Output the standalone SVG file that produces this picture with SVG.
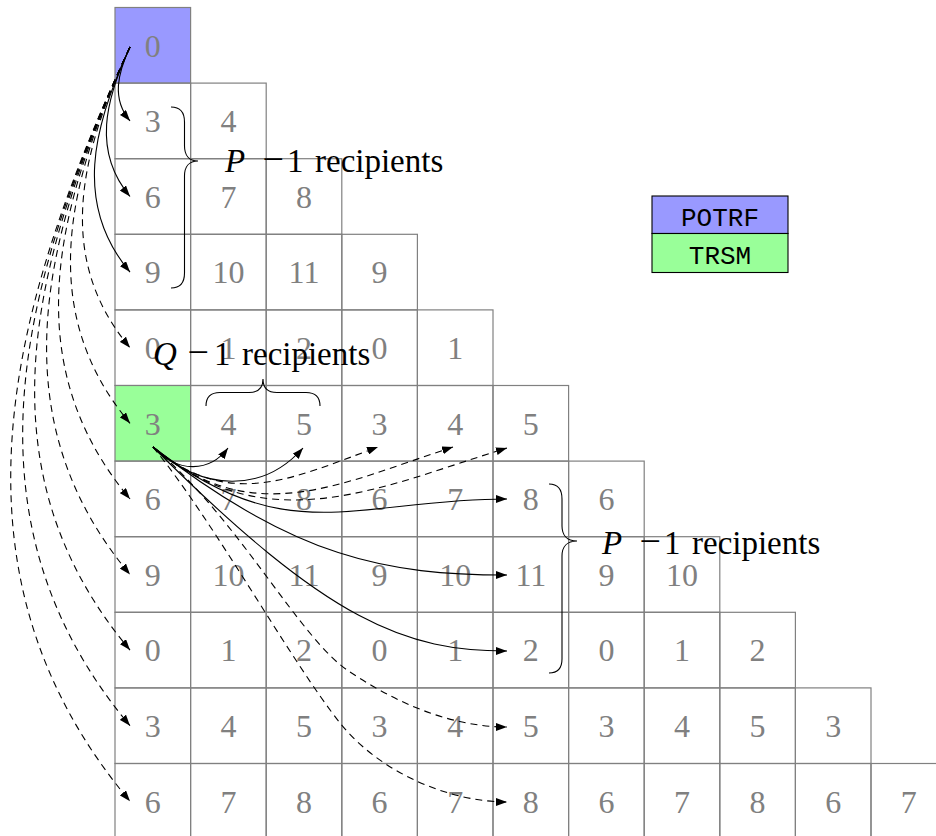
<svg xmlns="http://www.w3.org/2000/svg" width="936" height="836" viewBox="0 0 936 836">
<defs>
<style>
.cell{fill:none;stroke:#808080;stroke-width:1.2}
.num{font-family:"Liberation Serif",serif;font-size:32px;fill:#808080;text-anchor:middle}
.ar{fill:none;stroke:#000;stroke-width:1.1;marker-end:url(#ah)}
.dash{stroke-dasharray:7 5}
.brace{fill:none;stroke:#000;stroke-width:1.1}
.lbl{font-family:"Liberation Serif",serif;font-size:33px;fill:#000}
.it{font-style:italic}
.mi{font-size:38px}
.leg{stroke:#000;stroke-width:1.1}
.legt{font-family:"Liberation Mono",monospace;font-size:26px;fill:#000;text-anchor:middle}
.blue{fill:#9999ff}
.green{fill:#99ff99}
</style>
<marker id="ah" markerWidth="12" markerHeight="8" refX="11" refY="4" orient="auto" markerUnits="userSpaceOnUse">
<path d="M0,0 L11,4 L0,8 z" fill="#000"/>
</marker>
</defs>
<rect width="936" height="836" fill="#fff"/>
<g id="grid">
<g id="n-0-0" transform="translate(115,7.5)"><rect class="cell blue" width="75.6" height="75.6"/><text class="num" x="37.8" y="49">0</text></g>
<g id="n-1-0" transform="translate(115,83.1)"><rect class="cell" width="75.6" height="75.6"/><text class="num" x="37.8" y="49">3</text></g>
<g id="n-1-1" transform="translate(190.6,83.1)"><rect class="cell" width="75.6" height="75.6"/><text class="num" x="37.8" y="49">4</text></g>
<g id="n-2-0" transform="translate(115,158.7)"><rect class="cell" width="75.6" height="75.6"/><text class="num" x="37.8" y="49">6</text></g>
<g id="n-2-1" transform="translate(190.6,158.7)"><rect class="cell" width="75.6" height="75.6"/><text class="num" x="37.8" y="49">7</text></g>
<g id="n-2-2" transform="translate(266.2,158.7)"><rect class="cell" width="75.6" height="75.6"/><text class="num" x="37.8" y="49">8</text></g>
<g id="n-3-0" transform="translate(115,234.3)"><rect class="cell" width="75.6" height="75.6"/><text class="num" x="37.8" y="49">9</text></g>
<g id="n-3-1" transform="translate(190.6,234.3)"><rect class="cell" width="75.6" height="75.6"/><text class="num" x="37.8" y="49">10</text></g>
<g id="n-3-2" transform="translate(266.2,234.3)"><rect class="cell" width="75.6" height="75.6"/><text class="num" x="37.8" y="49">11</text></g>
<g id="n-3-3" transform="translate(341.8,234.3)"><rect class="cell" width="75.6" height="75.6"/><text class="num" x="37.8" y="49">9</text></g>
<g id="n-4-0" transform="translate(115,309.9)"><rect class="cell" width="75.6" height="75.6"/><text class="num" x="37.8" y="49">0</text></g>
<g id="n-4-1" transform="translate(190.6,309.9)"><rect class="cell" width="75.6" height="75.6"/><text class="num" x="37.8" y="49">1</text></g>
<g id="n-4-2" transform="translate(266.2,309.9)"><rect class="cell" width="75.6" height="75.6"/><text class="num" x="37.8" y="49">2</text></g>
<g id="n-4-3" transform="translate(341.8,309.9)"><rect class="cell" width="75.6" height="75.6"/><text class="num" x="37.8" y="49">0</text></g>
<g id="n-4-4" transform="translate(417.4,309.9)"><rect class="cell" width="75.6" height="75.6"/><text class="num" x="37.8" y="49">1</text></g>
<g id="n-5-0" transform="translate(115,385.5)"><rect class="cell green" width="75.6" height="75.6"/><text class="num" x="37.8" y="49">3</text></g>
<g id="n-5-1" transform="translate(190.6,385.5)"><rect class="cell" width="75.6" height="75.6"/><text class="num" x="37.8" y="49">4</text></g>
<g id="n-5-2" transform="translate(266.2,385.5)"><rect class="cell" width="75.6" height="75.6"/><text class="num" x="37.8" y="49">5</text></g>
<g id="n-5-3" transform="translate(341.8,385.5)"><rect class="cell" width="75.6" height="75.6"/><text class="num" x="37.8" y="49">3</text></g>
<g id="n-5-4" transform="translate(417.4,385.5)"><rect class="cell" width="75.6" height="75.6"/><text class="num" x="37.8" y="49">4</text></g>
<g id="n-5-5" transform="translate(493,385.5)"><rect class="cell" width="75.6" height="75.6"/><text class="num" x="37.8" y="49">5</text></g>
<g id="n-6-0" transform="translate(115,461.1)"><rect class="cell" width="75.6" height="75.6"/><text class="num" x="37.8" y="49">6</text></g>
<g id="n-6-1" transform="translate(190.6,461.1)"><rect class="cell" width="75.6" height="75.6"/><text class="num" x="37.8" y="49">7</text></g>
<g id="n-6-2" transform="translate(266.2,461.1)"><rect class="cell" width="75.6" height="75.6"/><text class="num" x="37.8" y="49">8</text></g>
<g id="n-6-3" transform="translate(341.8,461.1)"><rect class="cell" width="75.6" height="75.6"/><text class="num" x="37.8" y="49">6</text></g>
<g id="n-6-4" transform="translate(417.4,461.1)"><rect class="cell" width="75.6" height="75.6"/><text class="num" x="37.8" y="49">7</text></g>
<g id="n-6-5" transform="translate(493,461.1)"><rect class="cell" width="75.6" height="75.6"/><text class="num" x="37.8" y="49">8</text></g>
<g id="n-6-6" transform="translate(568.6,461.1)"><rect class="cell" width="75.6" height="75.6"/><text class="num" x="37.8" y="49">6</text></g>
<g id="n-7-0" transform="translate(115,536.7)"><rect class="cell" width="75.6" height="75.6"/><text class="num" x="37.8" y="49">9</text></g>
<g id="n-7-1" transform="translate(190.6,536.7)"><rect class="cell" width="75.6" height="75.6"/><text class="num" x="37.8" y="49">10</text></g>
<g id="n-7-2" transform="translate(266.2,536.7)"><rect class="cell" width="75.6" height="75.6"/><text class="num" x="37.8" y="49">11</text></g>
<g id="n-7-3" transform="translate(341.8,536.7)"><rect class="cell" width="75.6" height="75.6"/><text class="num" x="37.8" y="49">9</text></g>
<g id="n-7-4" transform="translate(417.4,536.7)"><rect class="cell" width="75.6" height="75.6"/><text class="num" x="37.8" y="49">10</text></g>
<g id="n-7-5" transform="translate(493,536.7)"><rect class="cell" width="75.6" height="75.6"/><text class="num" x="37.8" y="49">11</text></g>
<g id="n-7-6" transform="translate(568.6,536.7)"><rect class="cell" width="75.6" height="75.6"/><text class="num" x="37.8" y="49">9</text></g>
<g id="n-7-7" transform="translate(644.2,536.7)"><rect class="cell" width="75.6" height="75.6"/><text class="num" x="37.8" y="49">10</text></g>
<g id="n-8-0" transform="translate(115,612.3)"><rect class="cell" width="75.6" height="75.6"/><text class="num" x="37.8" y="49">0</text></g>
<g id="n-8-1" transform="translate(190.6,612.3)"><rect class="cell" width="75.6" height="75.6"/><text class="num" x="37.8" y="49">1</text></g>
<g id="n-8-2" transform="translate(266.2,612.3)"><rect class="cell" width="75.6" height="75.6"/><text class="num" x="37.8" y="49">2</text></g>
<g id="n-8-3" transform="translate(341.8,612.3)"><rect class="cell" width="75.6" height="75.6"/><text class="num" x="37.8" y="49">0</text></g>
<g id="n-8-4" transform="translate(417.4,612.3)"><rect class="cell" width="75.6" height="75.6"/><text class="num" x="37.8" y="49">1</text></g>
<g id="n-8-5" transform="translate(493,612.3)"><rect class="cell" width="75.6" height="75.6"/><text class="num" x="37.8" y="49">2</text></g>
<g id="n-8-6" transform="translate(568.6,612.3)"><rect class="cell" width="75.6" height="75.6"/><text class="num" x="37.8" y="49">0</text></g>
<g id="n-8-7" transform="translate(644.2,612.3)"><rect class="cell" width="75.6" height="75.6"/><text class="num" x="37.8" y="49">1</text></g>
<g id="n-8-8" transform="translate(719.8,612.3)"><rect class="cell" width="75.6" height="75.6"/><text class="num" x="37.8" y="49">2</text></g>
<g id="n-9-0" transform="translate(115,687.9)"><rect class="cell" width="75.6" height="75.6"/><text class="num" x="37.8" y="49">3</text></g>
<g id="n-9-1" transform="translate(190.6,687.9)"><rect class="cell" width="75.6" height="75.6"/><text class="num" x="37.8" y="49">4</text></g>
<g id="n-9-2" transform="translate(266.2,687.9)"><rect class="cell" width="75.6" height="75.6"/><text class="num" x="37.8" y="49">5</text></g>
<g id="n-9-3" transform="translate(341.8,687.9)"><rect class="cell" width="75.6" height="75.6"/><text class="num" x="37.8" y="49">3</text></g>
<g id="n-9-4" transform="translate(417.4,687.9)"><rect class="cell" width="75.6" height="75.6"/><text class="num" x="37.8" y="49">4</text></g>
<g id="n-9-5" transform="translate(493,687.9)"><rect class="cell" width="75.6" height="75.6"/><text class="num" x="37.8" y="49">5</text></g>
<g id="n-9-6" transform="translate(568.6,687.9)"><rect class="cell" width="75.6" height="75.6"/><text class="num" x="37.8" y="49">3</text></g>
<g id="n-9-7" transform="translate(644.2,687.9)"><rect class="cell" width="75.6" height="75.6"/><text class="num" x="37.8" y="49">4</text></g>
<g id="n-9-8" transform="translate(719.8,687.9)"><rect class="cell" width="75.6" height="75.6"/><text class="num" x="37.8" y="49">5</text></g>
<g id="n-9-9" transform="translate(795.4,687.9)"><rect class="cell" width="75.6" height="75.6"/><text class="num" x="37.8" y="49">3</text></g>
<g id="n-10-0" transform="translate(115,763.5)"><rect class="cell" width="75.6" height="75.6"/><text class="num" x="37.8" y="49">6</text></g>
<g id="n-10-1" transform="translate(190.6,763.5)"><rect class="cell" width="75.6" height="75.6"/><text class="num" x="37.8" y="49">7</text></g>
<g id="n-10-2" transform="translate(266.2,763.5)"><rect class="cell" width="75.6" height="75.6"/><text class="num" x="37.8" y="49">8</text></g>
<g id="n-10-3" transform="translate(341.8,763.5)"><rect class="cell" width="75.6" height="75.6"/><text class="num" x="37.8" y="49">6</text></g>
<g id="n-10-4" transform="translate(417.4,763.5)"><rect class="cell" width="75.6" height="75.6"/><text class="num" x="37.8" y="49">7</text></g>
<g id="n-10-5" transform="translate(493,763.5)"><rect class="cell" width="75.6" height="75.6"/><text class="num" x="37.8" y="49">8</text></g>
<g id="n-10-6" transform="translate(568.6,763.5)"><rect class="cell" width="75.6" height="75.6"/><text class="num" x="37.8" y="49">6</text></g>
<g id="n-10-7" transform="translate(644.2,763.5)"><rect class="cell" width="75.6" height="75.6"/><text class="num" x="37.8" y="49">7</text></g>
<g id="n-10-8" transform="translate(719.8,763.5)"><rect class="cell" width="75.6" height="75.6"/><text class="num" x="37.8" y="49">8</text></g>
<g id="n-10-9" transform="translate(795.4,763.5)"><rect class="cell" width="75.6" height="75.6"/><text class="num" x="37.8" y="49">6</text></g>
<g id="n-10-10" transform="translate(871,763.5)"><rect class="cell" width="75.6" height="75.6"/><text class="num" x="37.8" y="49">7</text></g>
</g>
<g id="connectors">
<path class="ar" d="M130,47 C117.76,73.21 111.40,98.74 130,120.9"/>
<path class="ar" d="M130,47 C105.24,100.03 92.37,151.67 130,196.5"/>
<path class="ar" d="M130,47 C92.72,126.85 73.33,204.59 130,272.1"/>
<path class="ar dash" d="M130,47 C80.20,153.65 54.31,257.53 130,347.7"/>
<path class="ar dash" d="M130,47 C67.68,180.47 35.27,310.45 130,423.3"/>
<path class="ar dash" d="M130,47 C55.16,207.29 16.24,363.38 130,498.9"/>
<path class="ar dash" d="M130,47 C42.64,234.11 -2.79,416.31 130,574.5"/>
<path class="ar dash" d="M130,47 C30.13,260.92 -21.82,469.24 130,650.1"/>
<path class="ar dash" d="M130,47 C17.61,287.73 -40.85,522.17 130,725.7"/>
<path class="ar dash" d="M130,47 C5.09,314.55 -59.88,575.09 130,801.3"/>
<path class="ar" d="M153,447 C178,474 210,472 228,448"/>
<path class="ar" d="M153,447 C203,492 263,493 303,448"/>
<path class="ar dash" d="M153,447 C229.6,511.3 293.4,477.8 378,447"/>
<path class="ar dash" d="M153,447 C252.6,530.6 338.9,484.1 453,447"/>
<path class="ar dash" d="M153,447 C267.9,543.4 382.7,486 507,448"/>
<path class="ar" d="M153,447 C287,551.7 357,499 507,499"/>
<path class="ar" d="M153,447 C294.8,557.8 387,575 507,575"/>
<path class="ar" d="M153,447 C329.8,623.8 407,651 507,651"/>
<path class="ar dash" d="M153,447 C240,520 300,640 350,672 C395,702 450,727 507,727"/>
<path class="ar dash" d="M153,447 C213,520 290,660 340,723 C380,773 450,802 507,802"/>
</g>
<g id="brace-p1">
<path class="brace" d="M171,107 C181,107 184.5,113 184.5,122 L184.5,146 C184.5,155 189,161 198,161 C189,161 184.5,167 184.5,176 L184.5,273 C184.5,282 181,288 171,288"/>
<text class="lbl" y="172"><tspan class="it" x="225">P</tspan><tspan class="mi" x="262.5">−</tspan><tspan x="287">1</tspan><tspan x="315">recipients</tspan></text>
</g>
<g id="brace-q">
<path class="brace" d="M206,406 C206,397 211,392.5 220,392.5 L249,392.5 C258,392.5 263,388 263,379 C263,388 268,392.5 277,392.5 L306,392.5 C315,392.5 320,397 320,406"/>
<text class="lbl" y="365"><tspan class="it" x="153">Q</tspan><tspan class="mi" x="187.5">−</tspan><tspan x="214">1</tspan><tspan x="242">recipients</tspan></text>
</g>
<g id="brace-p2">
<path class="brace" d="M549,484 C558,484 562,490 562,499 L562,526 C562,535 567,541 577,541 C567,541 562,547 562,556 L562,659 C562,668 558,673 549,673"/>
<text class="lbl" y="554"><tspan class="it" x="602">P</tspan><tspan class="mi" x="639.5">−</tspan><tspan x="664">1</tspan><tspan x="692">recipients</tspan></text>
</g>
<g id="legend">
<rect class="leg blue" x="652" y="196" width="136" height="37.5"/>
<rect class="leg green" x="652" y="233.5" width="136" height="39"/>
<text class="legt" x="720" y="226">POTRF</text>
<text class="legt" x="720" y="264">TRSM</text>
</g>
</svg>
